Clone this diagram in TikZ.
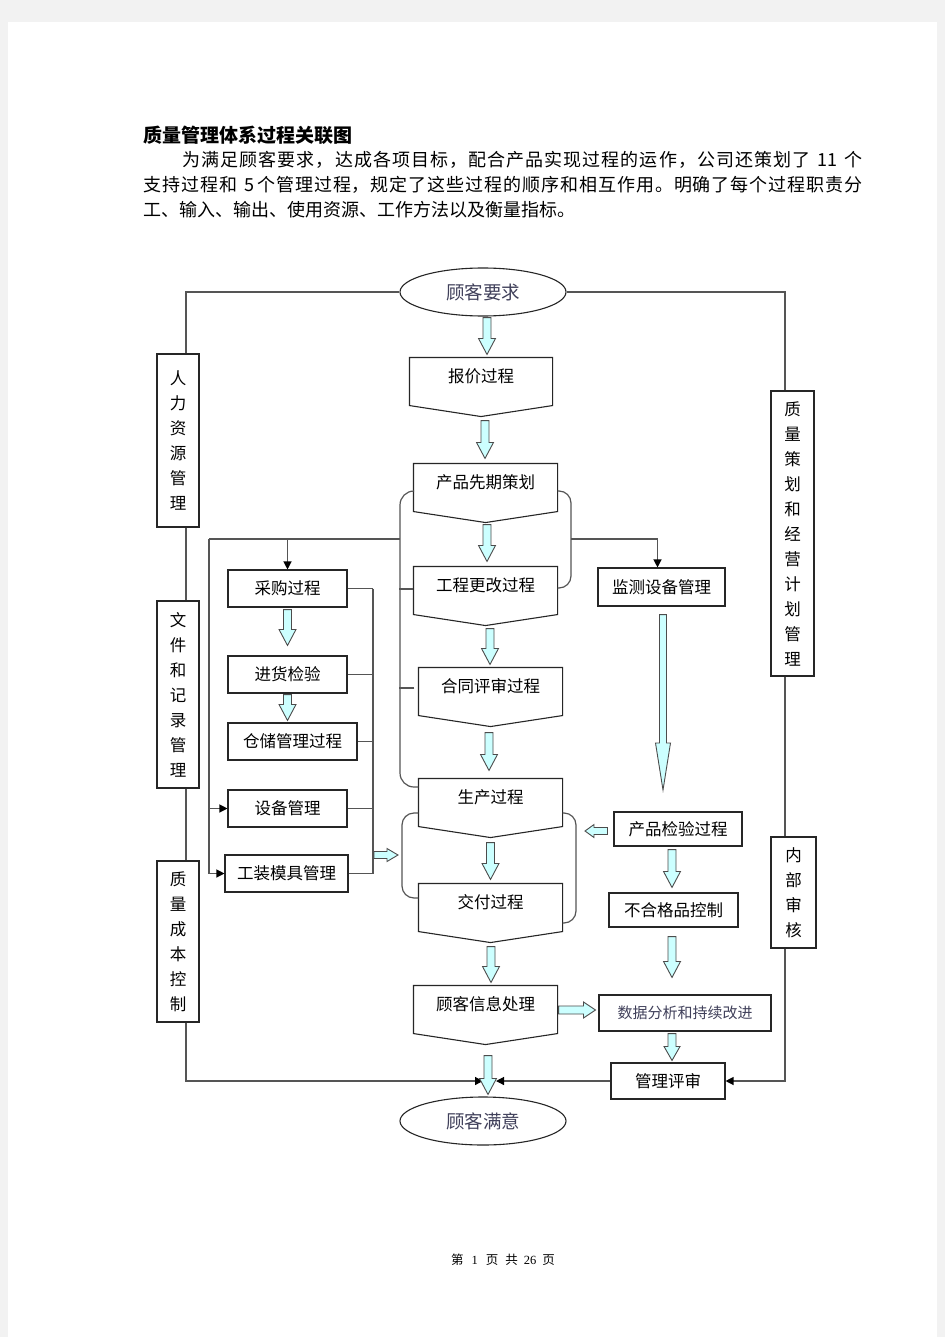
\documentclass[tikz,border=0pt]{standalone}
\usepackage{fontspec}
\setmainfont{Noto Sans CJK SC}
\newfontfamily\serifnum{Liberation Serif}
\usetikzlibrary{shapes.geometric,arrows.meta,calc}

\definecolor{pagegray}{RGB}{242,242,242}
\definecolor{linegray}{RGB}{85,85,85}
\definecolor{lightcyan}{RGB}{204,255,255}
\definecolor{ovaltext}{RGB}{64,64,90}

\makeatletter
\newcommand\spreadcjk[1]{\@tfor\spr@ch:=#1\do{\spr@ch\hskip 0pt plus 1fil}}
\makeatother

% block arrows: from, to, shaft half width, head half width, head length
\newcommand\vblockx[5]{\draw[cyanarrow] let \p1=(#1), \p2=(#2) in ({\x1-#3},\y1) -- ({\x1+#3},\y1) -- ({\x1+#3},{\y2+#5}) -- ({\x1+#4},{\y2+#5}) -- (\x1,\y2) -- ({\x1-#4},{\y2+#5}) -- ({\x1-#3},{\y2+#5}) -- cycle;}
\newcommand\vblock[2]{\vblockx{#1}{#2}{4pt}{8.5pt}{16pt}}
\newcommand\hblock[5]{\draw[cyanarrow] let \p1=(#1), \p2=(#2) in (\x1,{\y1+#3}) -- ({\x2-(#5)},{\y1+#3}) -- ({\x2-(#5)},{\y1+#4}) -- (\x2,\y1) -- ({\x2-(#5)},{\y1-#4}) -- ({\x2-(#5)},{\y1-#3}) -- (\x1,{\y1-#3}) -- cycle;}

\tikzset{every picture/.style={line width=1.1pt}}
\tikzset{
  conn/.style={draw=linegray, line width=1.2pt},
  blacktip/.style={-{Triangle[length=8pt,width=8pt,color=black]}},
  boxline/.style={draw=black!85, line width=1.1pt},
  cyanarrow/.style={fill=lightcyan, draw=black!70, line width=0.9pt},
  plainbox/.style={rectangle, draw=black!85, line width=1.1pt, inner sep=0pt, font=\fontsize{16.5}{16.5}\selectfont},
  procbox/.style={rectangle, inner sep=0pt, minimum width=143pt, minimum height=36pt, font=\fontsize{16.5}{16.5}\selectfont},
  sidebox/.style={plainbox, align=center, font=\fontsize{16.5}{25}\selectfont},
  oval/.style={ellipse, draw=black!85, line width=1.1pt, minimum width=166pt, minimum height=48pt, inner sep=0pt, text=ovaltext, font=\fontsize{18.5}{18.5}\selectfont},
  bodytext/.style={inner sep=0pt, anchor=west, font=\fontsize{18}{18}\selectfont},
}

\begin{document}
\begin{tikzpicture}[x=1pt,y=-1pt]
\useasboundingbox (0,0) rectangle (945,1337);
\fill[pagegray] (0,0) rectangle (945,1337);
\fill[white] (8,22) rectangle (937,1337);

% Text Node
\node[bodytext, font=\bfseries\fontsize{19}{19}\selectfont] (title) at (143,135) {质量管理体系过程关联图};
% Text Node
\node[bodytext] (line1) at (182,160) {\makebox[680pt][s]{\spreadcjk{为满足顾客要求，达成各项目标，配合产品实现过程的运作，公司还策划了}\hspace{6pt}11\hspace{6pt plus 1fil}个}};
% Text Node
\node[bodytext] (line2) at (143,185) {\makebox[719pt][s]{\spreadcjk{支持过程和}\hspace{6pt}5\hspace{2pt plus 1fil}\spreadcjk{个管理过程，规定了这些过程的顺序和相互作用。明确了每个过程职责}分}};
% Text Node
\node[bodytext] (line3) at (143,210) {工、输入、输出、使用资源、工作方法以及衡量指标。};

%Shape: Ellipse
\node[oval] (kyq) at (483,292) {顾客要求};
\node[oval] (manyi) at (483,1121) {顾客满意};

%Shape: main process column
\node[procbox, minimum width=142pt] (baojia) at (481,376) {报价过程};
\node[procbox] (xianqi) at (485.5,482) {产品先期策划};
\node[procbox] (gengai) at (485.5,585) {工程更改过程};
\node[procbox] (hetong) at (490.5,686) {合同评审过程};
\node[procbox] (shengchan) at (490.5,797) {生产过程};
\node[procbox] (jiaofu) at (490.5,902) {交付过程};
\node[procbox] (xinxi) at (485.5,1004) {顾客信息处理};
\foreach \n in {baojia,xianqi,gengai,hetong,shengchan,jiaofu,xinxi}
  \draw[boxline] (\n.north west) -- (\n.north east) -- ([yshift=-11pt]\n.south east) -- ([yshift=-22pt]\n.south) -- ([yshift=-11pt]\n.south west) -- cycle;

%Shape: Rectangle (left group)
\node[plainbox, minimum width=119pt, minimum height=37pt] (caigou) at (287.5,588.5) {采购过程};
\node[plainbox, minimum width=119pt, minimum height=37pt] (jinhuo) at (287.5,674.5) {进货检验};
\node[plainbox, minimum width=129pt, minimum height=37pt] (cangchu) at (292.5,741.5) {仓储管理过程};
\node[plainbox, minimum width=119pt, minimum height=37pt] (shebei) at (287.5,808.5) {设备管理};
\node[plainbox, minimum width=123pt, minimum height=37pt] (gongzhuang) at (286.5,873.5) {工装模具管理};

%Shape: Rectangle (right group)
\node[plainbox, minimum width=127pt, minimum height=38pt] (jiance) at (661.5,587) {监测设备管理};
\node[plainbox, minimum width=128pt, minimum height=34pt] (chanpinjy) at (678,829) {产品检验过程};
\node[plainbox, minimum width=129pt, minimum height=34pt] (buhege) at (673.5,910) {不合格品控制};
\node[plainbox, minimum width=172pt, minimum height=36pt, text=ovaltext, font=\fontsize{15}{15}\selectfont] (shuju) at (685,1013) {数据分析和持续改进};
\node[plainbox, minimum width=114pt, minimum height=36pt] (pingshen) at (668,1081) {管理评审};

%Shape: Rectangle (side columns)
\node[sidebox, minimum width=42pt, minimum height=173pt] (renli) at (178,440.5) {人\\力\\资\\源\\管\\理};
\node[sidebox, minimum width=42pt, minimum height=187pt] (wenjian) at (178,694.5) {文\\件\\和\\记\\录\\管\\理};
\node[sidebox, minimum width=42pt, minimum height=161pt] (chengben) at (178,941.5) {质\\量\\成\\本\\控\\制};
\node[sidebox, minimum width=43pt, minimum height=285pt] (cehua) at (792.5,533.5) {质\\量\\策\\划\\和\\经\\营\\计\\划\\管\\理};
\node[sidebox, minimum width=45pt, minimum height=111pt] (neishen) at (793.5,892.5) {内\\部\\审\\核};

%Straight Lines: outer loop
\coordinate (lx) at (186,0);
\coordinate (rx) at (785,0);
\coordinate (sat) at (488,1081);
\draw[conn] (kyq.west) -- (kyq.west -| lx) -- (renli.north -| lx);
\draw[conn] (renli.south -| lx) -- (wenjian.north -| lx);
\draw[conn] (wenjian.south -| lx) -- (chengben.north -| lx);
\draw[conn, blacktip] (chengben.south -| lx) -- (lx |- sat) -- ([xshift=-5pt]sat);
\draw[conn] (kyq.east) -- (kyq.east -| rx) -- (cehua.north -| rx);
\draw[conn] (cehua.south -| rx) -- (neishen.north -| rx);
\draw[conn, blacktip] (neishen.south -| rx) -- (rx |- pingshen.east) -- (pingshen.east);
\draw[conn, blacktip] (pingshen.west) -- ([xshift=8pt]sat);

%Curve Lines: brackets
\coordinate (lbx) at (400,0);
\coordinate (rbx) at (571,0);
\coordinate (lbx3) at (402,0);
\coordinate (rbx3) at (576,0);
\coordinate (b1a) at ([yshift=-9pt]xianqi.west);
\coordinate (b1b) at ([yshift=10pt]shengchan.west);
\coordinate (b2a) at ([yshift=-9pt]xianqi.east);
\coordinate (b2b) at ([yshift=-3pt]gengai.east);
\coordinate (b3a) at ([yshift=-16pt]shengchan.west);
\coordinate (b3b) at ([yshift=4pt]jiaofu.west);
\coordinate (b3c) at ([yshift=-16pt]shengchan.east);
\coordinate (b3d) at ([yshift=-21pt]jiaofu.east);
\draw[conn, rounded corners=14pt] (b1a) -- (b1a -| lbx) -- (b1b -| lbx) -- (b1b);
\draw[conn, rounded corners=12pt] (b2a) -- (b2a -| rbx) -- (b2b -| rbx) -- (b2b);
\draw[conn, rounded corners=12pt] (b3a) -- (b3a -| lbx3) -- (b3b -| lbx3) -- (b3b);
\draw[conn, rounded corners=12pt] (b3c) -- (b3c -| rbx3) -- (b3d -| rbx3) -- (b3d);
\draw[conn] ([yshift=-4pt]gengai.west) -- ++(-14,0);
\draw[conn] ([xshift=-4pt,yshift=-2pt]hetong.west) -- ++(-15,0);

%Straight Lines: branches to the groups
\coordinate (ltop) at (209,539);
\draw[conn] (ltop) -- (ltop -| lbx);
\draw[conn, blacktip] (ltop) |- (gongzhuang.west);
\draw[conn, blacktip] (ltop |- shebei.west) -- (shebei.west);
\draw[conn, blacktip] (caigou.north |- ltop) -- (caigou.north);
\draw[conn, blacktip] (ltop -| rbx) -| ([xshift=-4pt]jiance.north);
\coordinate (combx) at (373,0);
\foreach \n in {caigou,jinhuo,cangchu,shebei,gongzhuang}
  \draw[conn] (\n.east) -- (\n.east -| combx);
\draw[conn] (caigou.east -| combx) -- (gongzhuang.east -| combx);

%Block arrows
\vblock{[xshift=4pt,yshift=-1pt]kyq.south}{[yshift=3pt]baojia.north}
\vblock{[xshift=4pt,yshift=-26pt]baojia.south}{[yshift=5pt]xianqi.north}
\vblock{[xshift=1.5pt,yshift=-24pt]xianqi.south}{[yshift=5pt]gengai.north}
\vblock{[xshift=4.5pt,yshift=-25pt]gengai.south}{[yshift=3pt]hetong.north}
\vblock{[xshift=-1.5pt,yshift=-28pt]hetong.south}{[yshift=8pt]shengchan.north}
\vblock{[yshift=-27pt]shengchan.south}{[yshift=4pt]jiaofu.north}
\vblock{[xshift=0.5pt,yshift=-26pt]jiaofu.south}{[yshift=3pt]xinxi.north}
\vblock{[xshift=2.5pt,yshift=-33pt]xinxi.south}{[yshift=2pt]manyi.north}
\vblock{[yshift=-2pt]caigou.south}{[yshift=10pt]jinhuo.north}
\vblock{[yshift=-1pt]jinhuo.south}{[yshift=2pt]cangchu.north}
\vblock{[xshift=-6pt,yshift=-3pt]chanpinjy.south}{[yshift=5pt]buhege.north}
\vblock{[xshift=-1.5pt,yshift=-9pt]buhege.south}{[yshift=17pt]shuju.north}
\vblockx{[xshift=-13pt,yshift=-2pt]shuju.south}{[yshift=2pt]pingshen.north}{4pt}{8pt}{14pt}
\coordinate (jtip) at (663,790);
\vblockx{[xshift=1.5pt,yshift=-8pt]jiance.south}{jtip}{3.5pt}{7.5pt}{47pt}
\hblock{[xshift=1pt,yshift=-6pt]xinxi.east}{[xshift=-3pt]shuju.west}{4pt}{8pt}{12pt}
\coordinate (pin) at (374,855);
\coordinate (pout) at (398,855);
\hblock{pin}{pout}{3.5pt}{6.5pt}{11pt}
\coordinate (qout) at (585,831);
\hblock{[xshift=-6pt,yshift=-2pt]chanpinjy.west}{qout}{3.5pt}{6.5pt}{-9pt}

% Text Node
\node[font=\fontsize{12.5}{12.5}\selectfont] (footer) at (503,1260) {第\hspace{8pt}{\serifnum 1}\hspace{8pt}页\hspace{7pt}共\hspace{6pt}{\serifnum 26}\hspace{6pt}页};

\end{tikzpicture}
\end{document}
